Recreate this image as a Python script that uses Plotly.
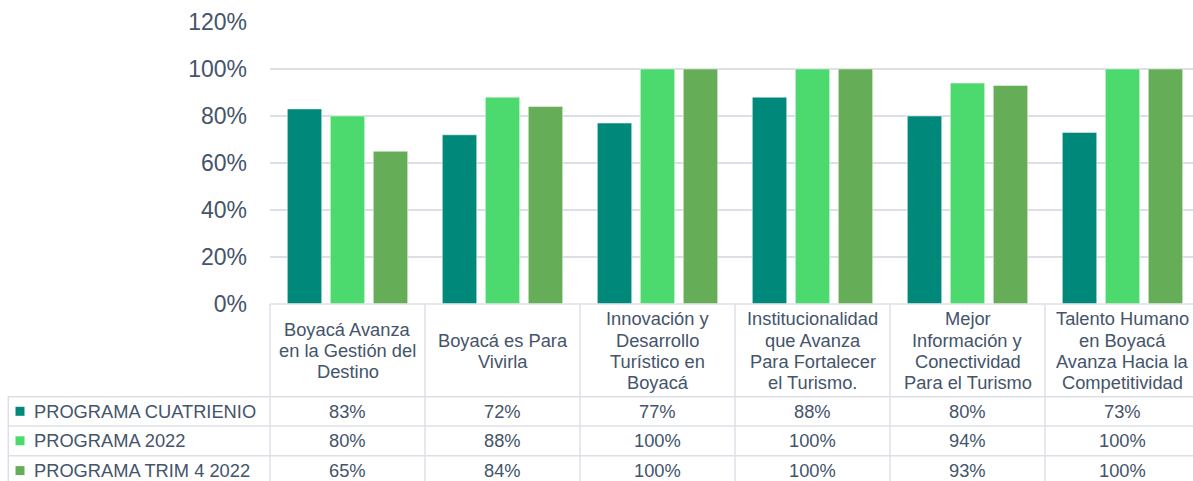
import plotly.graph_objects as go

categories = [
    "Boyacá Avanza<br>en la Gestión del<br>Destino",
    "Boyacá es Para<br>Vivirla",
    "Innovación y<br>Desarrollo<br>Turístico en<br>Boyacá",
    "Institucionalidad<br>que Avanza<br>Para Fortalecer<br>el Turismo.",
    "Mejor<br>Información y<br>Conectividad<br>Para el Turismo",
    "Talento Humano<br>en Boyacá<br>Avanza Hacia la<br>Competitividad",
]
series_names = ["PROGRAMA CUATRIENIO", "PROGRAMA 2022", "PROGRAMA TRIM 4 2022"]
cuatrienio = [0.83, 0.72, 0.77, 0.88, 0.80, 0.73]
prog_2022 = [0.80, 0.88, 1.00, 1.00, 0.94, 1.00]
trim4_2022 = [0.65, 0.84, 1.00, 1.00, 0.93, 1.00]
y_ticks = [0, 0.2, 0.4, 0.6, 0.8, 1.0, 1.2]

series_values = [cuatrienio, prog_2022, trim4_2022]
colors = ["#00897B", "#4CD96E", "#66AD57"]
text_color = "#44546A"
line_color = "#DCE0E6"
font_family = "Liberation Sans, Arial, sans-serif"
TFS = 18.3  # table font size

W, H = 1193, 481
ML, MR, MT, MB = 270, 0, 22, 177
PH = H - MT - MB
PW = W - ML - MR
CAT_W = 155.0  # px per category (last column runs past the right edge)
x_max = -0.5 + PW / CAT_W


def yp(ypx):
    return (H - MB - ypx) / PH


def xp(xpx):
    return (xpx - ML) / PW


x_idx = list(range(len(categories)))

fig = go.Figure()
for name, vals, col in zip(series_names, series_values, colors):
    fig.add_trace(go.Bar(
        x=x_idx, y=vals, name=name,
        marker=dict(color=col, line=dict(color="rgba(255,255,255,0.6)", width=0.8)),
        showlegend=False,
    ))

shapes = []
annotations = []

header_top = 304
row_edges = [396.7, 425.9, 455.7, 485.5]
table_left = 8.3
lw = 1.5

shapes.append(dict(type="line", xref="paper", yref="paper", x0=0, x1=1,
                   y0=yp(header_top), y1=yp(header_top), line=dict(color=line_color, width=lw)))
for ye in row_edges:
    shapes.append(dict(type="line", xref="paper", yref="paper", x0=xp(table_left), x1=1,
                       y0=yp(ye), y1=yp(ye), line=dict(color=line_color, width=lw)))
shapes.append(dict(type="line", xref="paper", yref="paper", x0=0, x1=0,
                   y0=yp(header_top), y1=yp(row_edges[-1]), line=dict(color=line_color, width=lw)))
shapes.append(dict(type="line", xref="paper", yref="paper", x0=xp(table_left), x1=xp(table_left),
                   y0=yp(row_edges[0]), y1=yp(row_edges[-1]), line=dict(color=line_color, width=lw)))
for k in range(1, len(categories)):
    shapes.append(dict(type="line", xref="x", yref="paper", x0=k - 0.5, x1=k - 0.5,
                       y0=yp(header_top), y1=yp(row_edges[-1]), line=dict(color=line_color, width=lw)))

# header labels, one annotation per line for tighter line spacing
header_cy = (header_top + row_edges[0]) / 2 + 0.3
line_h = 21.2
for i, cat in enumerate(categories):
    lines = cat.split("<br>")
    n = len(lines)
    for j, ln in enumerate(lines):
        cy = header_cy + (j - (n - 1) / 2) * line_h
        annotations.append(dict(x=i, y=yp(cy), xref="x", yref="paper",
                                text=ln, showarrow=False, xanchor="center", yanchor="middle",
                                font=dict(size=TFS, color=text_color, family=font_family)))

for r, (name, vals, col) in enumerate(zip(series_names, series_values, colors)):
    top = row_edges[r]
    bot = row_edges[r + 1]
    cy = (top + bot) / 2
    shapes.append(dict(type="rect", xref="paper", yref="paper",
                       x0=xp(15.5), x1=xp(24.5), y0=yp(cy - 4.5), y1=yp(cy + 4.5),
                       fillcolor=col, line=dict(width=0)))
    annotations.append(dict(x=xp(32.5), y=yp(cy), xref="paper", yref="paper", text=name,
                            showarrow=False, xanchor="left", yanchor="middle",
                            font=dict(size=TFS, color=text_color, family=font_family)))
    for i, v in enumerate(vals):
        annotations.append(dict(x=i, y=yp(cy), xref="x", yref="paper", text=f"{v:.0%}",
                                showarrow=False, xanchor="center", yanchor="middle",
                                font=dict(size=TFS, color=text_color, family=font_family)))

fig.update_layout(
    width=W, height=H,
    margin=dict(l=ML, r=MR, t=MT, b=MB),
    paper_bgcolor="white", plot_bgcolor="white",
    barmode="group", bargap=0.168, bargroupgap=0.2,
    shapes=shapes, annotations=annotations,
    font=dict(family=font_family, color=text_color),
    xaxis=dict(range=[-0.5, x_max], showticklabels=False, showgrid=False,
               zeroline=False, showline=False, ticks=""),
    yaxis=dict(range=[0, 1.2], tickvals=y_ticks, tickformat=".0%",
               tickfont=dict(size=23, color=text_color, family=font_family),
               showgrid=True, gridcolor=line_color, gridwidth=1.5, zeroline=False,
               showline=False, ticks="", ticklabelstandoff=22),
)

fig.write_html(
    "out.html",
    config={"displayModeBar": False},
    post_script="document.body.style.margin='0';document.body.style.overflow='hidden';",
)
